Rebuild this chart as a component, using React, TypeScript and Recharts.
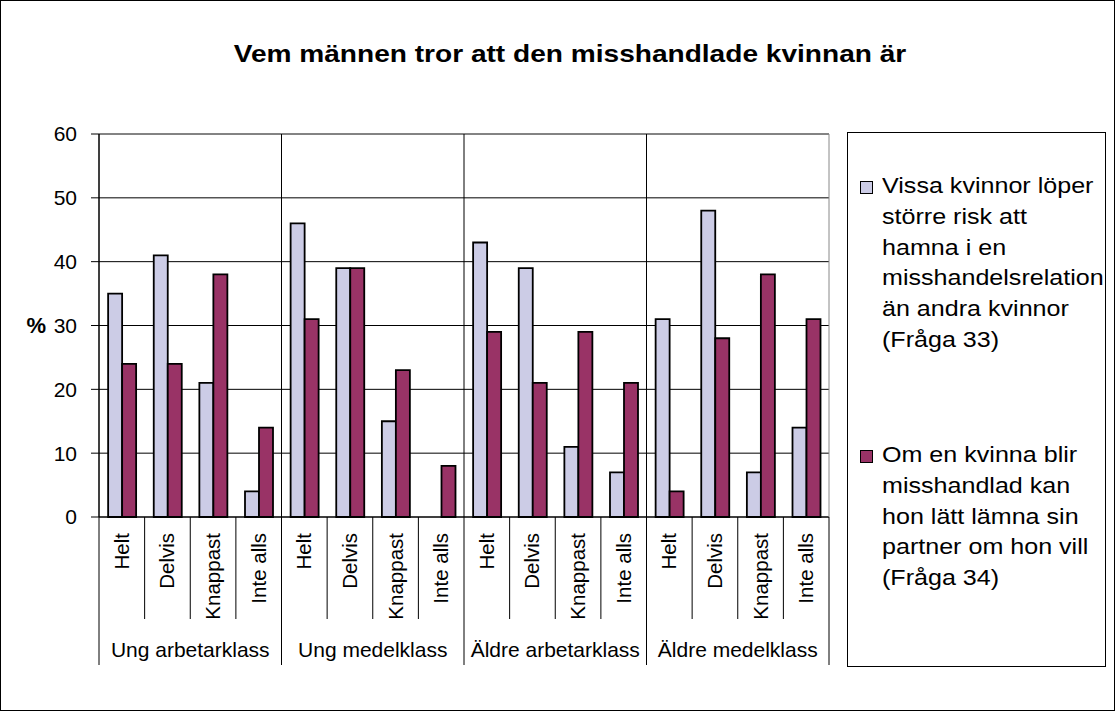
import React from 'react';
import { BarChart, Bar, XAxis, YAxis, CartesianGrid, ReferenceLine, Legend } from 'recharts';

// ---- data ----
const groups = ['Ung arbetarklass', 'Ung medelklass', 'Äldre arbetarklass', 'Äldre medelklass'];
const answers = ['Helt', 'Delvis', 'Knappast', 'Inte alls'];
const q33Values = [35, 41, 21, 4, 46, 39, 15, 0, 43, 39, 11, 7, 31, 48, 7, 14];
const q34Values = [24, 24, 38, 14, 31, 39, 23, 8, 29, 21, 29, 21, 4, 28, 38, 31];
const seriesKeys = ['q33', 'q34'];
const seriesNames = [
  'Vissa kvinnor löper större risk att hamna i en misshandelsrelation än andra kvinnor (Fråga 33)',
  'Om en kvinna blir misshandlad kan hon lätt lämna sin partner om hon vill (Fråga 34)',
];
const yTicks = [0, 10, 20, 30, 40, 50, 60];
const title = 'Vem männen tror att den misshandlade kvinnan är';
const yLabel = '%';

const data = groups.flatMap((g, gi) =>
  answers.map((a, ai) => ({
    key: `${g}|${a}`,
    group: g,
    answer: a,
    q33: q33Values[gi * answers.length + ai],
    q34: q34Values[gi * answers.length + ai],
  }))
);

// ---- layout ----
const W = 1115;
const H = 711;
const PLOT_L = 99;
const PLOT_R = 829;
const PLOT_T = 134;
const PLOT_B = 517;
const PLOT_W = PLOT_R - PLOT_L;
const PLOT_H = PLOT_B - PLOT_T;
const Y_AXIS_W = 60;
const X_AXIS_H = 150;
const FONT = '"Liberation Sans", Arial, Helvetica, sans-serif';

const LIGHT = '#CCCCE6';
const DARK = '#993366';

const CategoryTick = (props: any) => {
  const { x, y, index } = props;
  const i: number = index ?? props.payload?.index ?? 0;
  const d = data[i];
  const band = PLOT_W / data.length;
  const left = x - band / 2;
  const right = x + band / 2;
  const pos = i % answers.length;
  return (
    <g>
      {pos === 0 ? (
        <line x1={left} x2={left} y1={y - PLOT_H} y2={y + 148} stroke="#000" strokeWidth={1} />
      ) : (
        <line x1={left} x2={left} y1={y} y2={y + 102} stroke="#000" strokeWidth={1} />
      )}
      {i === data.length - 1 && (
        <g>
          <line x1={right} x2={right} y1={y - PLOT_H} y2={y} stroke="#888" strokeWidth={1} />
          <line x1={right} x2={right} y1={y} y2={y + 148} stroke="#000" strokeWidth={1} />
        </g>
      )}
      <text
        transform={`translate(${x + 7},${y + 16}) rotate(-90)`}
        textAnchor="end"
        fontSize={20.5}
        fill="#000"
      >
        {d.answer}
      </text>
      {pos === 1 && (
        <text x={right} y={y + 140} textAnchor="middle" fontSize={21} fill="#000">
          {d.group}
        </text>
      )}
    </g>
  );
};

const renderLegend = (props: any) => {
  const payload = [...(props.payload || [])].sort(
    (a: any, b: any) => seriesKeys.indexOf(a.dataKey) - seriesKeys.indexOf(b.dataKey)
  );
  const tops = [38, 307];
  return (
    <div
      style={{
        width: '100%',
        height: '100%',
        border: '1px solid #000',
        boxSizing: 'border-box',
        position: 'relative',
        background: '#fff',
        fontFamily: FONT,
        color: '#000',
      }}
    >
      {payload.map((entry: any, i: number) => (
        <div key={i} style={{ position: 'absolute', left: 12, top: tops[i], display: 'flex', alignItems: 'flex-start' }}>
          <span
            style={{
              display: 'inline-block',
              width: 13,
              height: 13,
              boxSizing: 'border-box',
              border: '1px solid #000',
              background: entry.color,
              marginTop: 10,
              marginRight: 9,
              flex: 'none',
            }}
          />
          <span
            style={{
              display: 'inline-block',
              width: 192,
              fontSize: 22,
              lineHeight: '30.8px',
              transform: 'scaleX(1.14)',
              transformOrigin: 'left top',
            }}
          >
            {entry.value}
          </span>
        </div>
      ))}
    </div>
  );
};

export default function App() {
  return (
    <div
      style={{
        position: 'absolute',
        left: 0,
        top: 0,
        width: W,
        height: H,
        background: '#fff',
        fontFamily: FONT,
        color: '#000',
      }}
    >
      <div
        style={{
          position: 'absolute',
          left: 569.5 - 300,
          top: 42,
          width: 600,
          textAlign: 'center',
          fontSize: 24,
          lineHeight: '24px',
          fontWeight: 'bold',
          transform: 'scaleX(1.17)',
          transformOrigin: 'center top',
          whiteSpace: 'nowrap',
        }}
      >
        {title}
      </div>
      <div style={{ position: 'absolute', left: 0, top: 0 }}>
        <BarChart
          width={W}
          height={H}
          data={data}
          margin={{ top: PLOT_T, left: PLOT_L - Y_AXIS_W, right: W - PLOT_R, bottom: H - PLOT_B - X_AXIS_H }}
          barCategoryGap="20%"
          barGap={0}
        >
          <CartesianGrid vertical={false} stroke="#000" />
          <ReferenceLine y={60} stroke="#888" />
          <XAxis
            dataKey="key"
            interval={0}
            height={X_AXIS_H}
            tickSize={0}
            tickMargin={0}
            tickLine={false}
            axisLine={{ stroke: '#000' }}
            tick={<CategoryTick />}
          />
          <YAxis
            domain={[0, 60]}
            ticks={yTicks}
            interval={0}
            width={Y_AXIS_W}
            tickSize={8}
            tickMargin={14}
            tick={{ fontSize: 21, fill: '#000' }}
            axisLine={{ stroke: '#000' }}
            tickLine={{ stroke: '#000' }}
            label={{ value: yLabel, position: 'left', offset: -7, fontSize: 22, fontWeight: 'bold', fill: '#000' }}
          />
          <Bar dataKey="q33" name={seriesNames[0]} fill={LIGHT} stroke="#000" strokeWidth={1.8} isAnimationActive={false} />
          <Bar dataKey="q34" name={seriesNames[1]} fill={DARK} stroke="#000" strokeWidth={1.8} isAnimationActive={false} />
          <Legend
            layout="vertical"
            align="center"
            verticalAlign="middle"
            wrapperStyle={{ left: 847, top: 132, width: 259, height: 535 }}
            content={renderLegend}
          />
        </BarChart>
      </div>
      <div
        style={{
          position: 'absolute',
          left: 0,
          top: 0,
          width: W,
          height: H,
          border: '1px solid #000',
          boxSizing: 'border-box',
          pointerEvents: 'none',
        }}
      />
    </div>
  );
}
